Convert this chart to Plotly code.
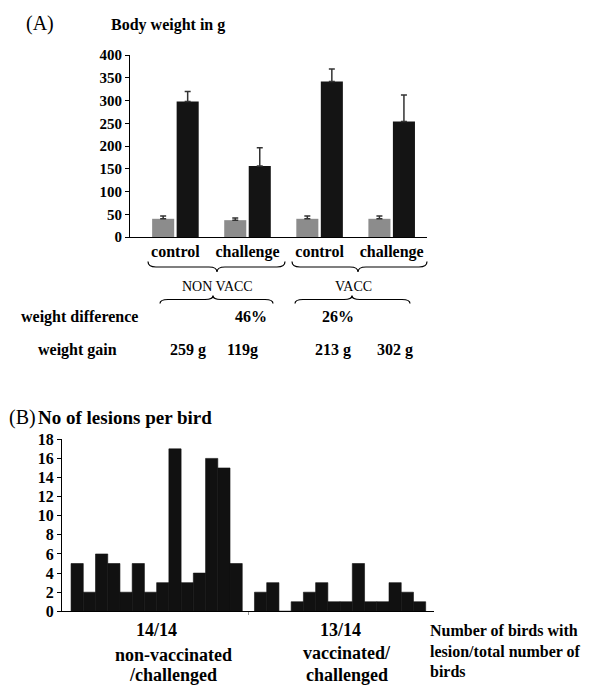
import plotly.graph_objects as go

# ---------------- data ----------------
groups = ["NON VACC", "NON VACC", "VACC", "VACC"]
treatments = ["control", "challenge", "control", "challenge"]
initial_weight = [40, 37, 40, 40]
initial_err = [6, 5, 6, 6]
final_weight = [298, 156, 342, 254]
final_err = [22, 40, 27, 58]
weight_difference = ["46%", "26%"]
weight_gain = ["259 g", "119g", "213 g", "302 g"]

nonvacc_lesions = [5, 2, 6, 5, 2, 5, 2, 3, 17, 3, 4, 16, 15, 5]
vacc_lesions = [2, 3, 0, 1, 2, 3, 1, 1, 5, 1, 1, 3, 2, 1]
group_labels_b = ["14/14", "13/14"]

# page offset (body margin) and figure size so that it fits the window
OFF = 8
W, H = 595 - OFF, 686 - OFF
SERIF = "Liberation Serif"


def px(x):
    return (x - OFF) / W


def py(y):
    return 1 - (y - OFF) / H


cats = [f"{g} {t}" for g, t in zip(groups, treatments)]

fig = go.Figure()

fig.add_trace(go.Bar(
    x=cats, y=initial_weight, name="initial",
    marker=dict(color="#8c8c8c", line=dict(width=0)),
    error_y=dict(type="data", symmetric=False, array=initial_err,
                 arrayminus=[0] * len(initial_err), color="#333333",
                 thickness=1.5, width=3),
    xaxis="x", yaxis="y", showlegend=False,
))
fig.add_trace(go.Bar(
    x=cats, y=final_weight, name="final",
    marker=dict(color="#141414", line=dict(width=0)),
    error_y=dict(type="data", symmetric=False, array=final_err,
                 arrayminus=[0] * len(final_err), color="#333333",
                 thickness=1.5, width=3),
    xaxis="x", yaxis="y", showlegend=False,
))

n1 = len(nonvacc_lesions)
x_nv = list(range(n1))
x_v = list(range(n1 + 1, n1 + 1 + len(vacc_lesions)))
for xs, ys in ((x_nv, nonvacc_lesions), (x_v, vacc_lesions)):
    fig.add_trace(go.Bar(
        x=xs, y=ys, width=1, offsetgroup="b",
        marker=dict(color="#111111", line=dict(width=0.6, color="#111111")),
        xaxis="x2", yaxis="y2", showlegend=False,
    ))

bold = dict(family=SERIF, size=16, color="black", weight="bold")

fig.update_layout(
    width=W, height=H,
    margin=dict(l=0, r=0, t=0, b=0, pad=0),
    paper_bgcolor="white", plot_bgcolor="white",
    barmode="group", bargap=0.32, bargroupgap=0.1,
    font=dict(family=SERIF, color="black"),
    xaxis=dict(
        domain=[px(130), px(427)], anchor="y", type="category",
        range=[-0.63, 3.49], tickvals=cats, ticktext=treatments,
        tickfont=bold, showline=True, linecolor="black", linewidth=1,
        ticks="", showgrid=False, zeroline=False, automargin=False,
    ),
    yaxis=dict(
        domain=[py(237), py(55)], anchor="x", range=[0, 400], dtick=50,
        tickfont=dict(family=SERIF, size=15, color="black", weight="bold"),
        ticks="outside", ticklen=4, tickcolor="black",
        showline=True, linecolor="black", linewidth=1,
        showgrid=False, zeroline=False, automargin=False,
    ),
    xaxis2=dict(
        domain=[px(62), px(434)], anchor="y2", range=[-1.24, 29.18],
        tickvals=[n1], ticks="outside", ticklen=3, tickcolor="#999999",
        showticklabels=False, showline=True, linecolor="black", linewidth=1,
        showgrid=False, zeroline=False, automargin=False,
    ),
    yaxis2=dict(
        domain=[py(611.3), py(439.3)], anchor="x2", range=[0, 18], dtick=2,
        tickfont=dict(family=SERIF, size=16, color="black", weight="bold"),
        ticks="outside", ticklen=4, tickcolor="black",
        showline=True, linecolor="black", linewidth=1,
        showgrid=False, zeroline=False, automargin=False,
    ),
)

ann = []


def add_text(text, x, y, xanchor="center", size=16, weight="bold", xref="paper"):
    ann.append(dict(
        text=text, x=(x if xref != "paper" else px(x)), y=py(y),
        xref=xref, yref="paper", xanchor=xanchor, yanchor="middle",
        showarrow=False, borderpad=0,
        font=dict(family=SERIF, size=size, color="black", weight=weight),
    ))


# Panel A texts
add_text("(A)", 25, 23, "left", 20, "normal")
add_text("Body weight in g", 110, 25, "left", 16)
add_text("NON VACC", 217, 286, "center", 14, "normal")
add_text("VACC", 353, 286, "center", 14, "normal")
add_text("weight difference", 20, 317, "left", 16)
add_text(weight_difference[0], 251, 317)
add_text(weight_difference[1], 338, 317)
add_text("weight gain", 37, 350, "left", 16)
for t, xc in zip(weight_gain, [187.5, 242.5, 333, 395]):
    add_text(t, xc, 350)

# Panel B texts
add_text("(B)", 8, 417, "left", 20, "normal")
add_text("No of lesions per bird", 37, 417, "left", 19)
add_text(group_labels_b[0], (n1 - 1) / 2, 630, "center", 18, xref="x2")
add_text(group_labels_b[1], n1 + 1 + (len(vacc_lesions) - 1) / 2, 630, "center", 18, xref="x2")
add_text("non-vaccinated", 173, 655, "center", 18)
add_text("/challenged", 173, 675, "center", 18)
add_text("vaccinated/", 347.5, 653, "center", 18)
add_text("challenged", 347.5, 675, "center", 18)
add_text("Number of birds with", 429, 630, "left", 16)
add_text("lesion/total number of", 429, 651, "left", 16)
add_text("birds", 429, 671, "left", 16)

fig.update_layout(annotations=ann)


def brace(x0, x1, xm, y_end, y_mid, y_tip, r=8):
    pts = [
        f"M {px(x0)},{py(y_end)}",
        f"Q {px(x0)},{py(y_mid)} {px(x0 + r)},{py(y_mid)}",
        f"L {px(xm - r)},{py(y_mid)}",
        f"Q {px(xm)},{py(y_mid)} {px(xm)},{py(y_tip)}",
        f"Q {px(xm)},{py(y_mid)} {px(xm + r)},{py(y_mid)}",
        f"L {px(x1 - r)},{py(y_mid)}",
        f"Q {px(x1)},{py(y_mid)} {px(x1)},{py(y_end)}",
    ]
    return dict(type="path", path=" ".join(pts), xref="paper", yref="paper",
                line=dict(color="black", width=1.2))


shapes = [
    brace(148, 285, 217, 261.5, 267, 272),
    brace(292, 427, 358, 261.5, 267, 272),
    brace(160, 273, 213, 303.5, 299.5, 295.5),
    brace(295, 410, 352, 303.5, 299.5, 295.5),
]
fig.update_layout(shapes=shapes)

fig.write_html("out.html")
